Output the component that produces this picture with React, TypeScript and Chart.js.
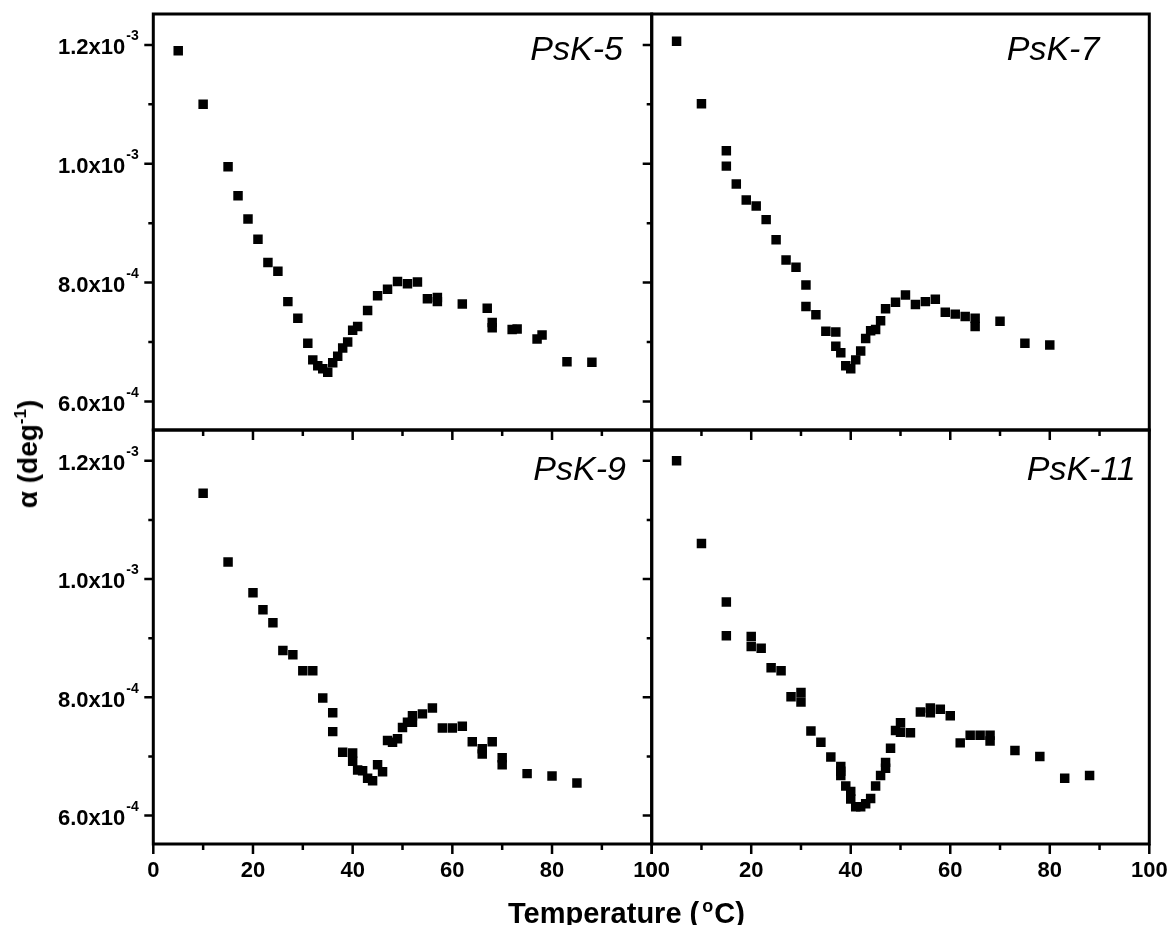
import React, { useEffect, useRef } from "react";
import { Chart, registerables } from "chart.js";

Chart.register(...registerables);

const W = 1172;
const H = 925;

// ---------- data (temperature in °C, alpha in deg^-1) ----------
const psk5T = [5, 10, 15, 17, 19, 21, 23, 25, 27, 29, 31, 32, 33, 34, 35, 36, 37, 38, 39, 40, 41, 43, 45, 47, 49, 51, 53, 55, 57, 57, 62, 67, 68, 68, 72, 73, 77, 78, 83, 88];
const psk5A = [11.9e-4, 11.0e-4, 9.95e-4, 9.46e-4, 9.07e-4, 8.73e-4, 8.34e-4, 8.19e-4, 7.68e-4, 7.40e-4, 6.98e-4, 6.70e-4, 6.60e-4, 6.55e-4, 6.49e-4, 6.65e-4, 6.76e-4, 6.90e-4, 7.00e-4, 7.20e-4, 7.26e-4, 7.53e-4, 7.78e-4, 7.89e-4, 8.02e-4, 7.98e-4, 8.01e-4, 7.73e-4, 7.75e-4, 7.68e-4, 7.64e-4, 7.57e-4, 7.33e-4, 7.24e-4, 7.21e-4, 7.22e-4, 7.05e-4, 7.12e-4, 6.67e-4, 6.66e-4];

const psk7T = [5, 10, 15, 15, 17, 19, 21, 23, 25, 27, 29, 31, 31, 33, 35, 37, 37, 38, 39, 40, 41, 42, 43, 44, 45, 46, 47, 49, 51, 53, 55, 57, 59, 61, 63, 65, 65, 70, 75, 80];
const psk7A = [12.06e-4, 11.01e-4, 10.22e-4, 9.96e-4, 9.66e-4, 9.39e-4, 9.29e-4, 9.06e-4, 8.72e-4, 8.38e-4, 8.26e-4, 7.96e-4, 7.60e-4, 7.46e-4, 7.18e-4, 7.17e-4, 6.93e-4, 6.82e-4, 6.60e-4, 6.55e-4, 6.70e-4, 6.85e-4, 7.06e-4, 7.19e-4, 7.21e-4, 7.36e-4, 7.56e-4, 7.67e-4, 7.79e-4, 7.63e-4, 7.68e-4, 7.72e-4, 7.50e-4, 7.47e-4, 7.43e-4, 7.40e-4, 7.26e-4, 7.35e-4, 6.98e-4, 6.95e-4];

const psk9T = [10, 15, 20, 22, 24, 26, 28, 30, 32, 34, 36, 36, 38, 40, 40, 41, 42, 43, 44, 45, 46, 47, 48, 49, 50, 51, 52, 52, 54, 56, 58, 60, 62, 64, 66, 66, 68, 70, 70, 75, 80, 85];
const psk9A = [11.45e-4, 10.29e-4, 9.77e-4, 9.48e-4, 9.26e-4, 8.79e-4, 8.72e-4, 8.45e-4, 8.45e-4, 7.99e-4, 7.74e-4, 7.42e-4, 7.07e-4, 7.06e-4, 6.92e-4, 6.77e-4, 6.76e-4, 6.63e-4, 6.59e-4, 6.86e-4, 6.74e-4, 7.27e-4, 7.24e-4, 7.30e-4, 7.49e-4, 7.58e-4, 7.69e-4, 7.58e-4, 7.72e-4, 7.82e-4, 7.48e-4, 7.48e-4, 7.51e-4, 7.25e-4, 7.13e-4, 7.04e-4, 7.25e-4, 6.98e-4, 6.86e-4, 6.71e-4, 6.67e-4, 6.55e-4];

const psk11T = [5, 10, 15, 15, 20, 20, 22, 24, 26, 28, 30, 30, 32, 34, 36, 38, 38, 38, 39, 40, 40, 41, 42, 43, 44, 45, 46, 47, 47, 48, 49, 50, 50, 52, 54, 56, 56, 58, 60, 62, 64, 66, 68, 68, 73, 78, 83, 88];
const psk11A = [12.0e-4, 10.6e-4, 9.61e-4, 9.04e-4, 9.03e-4, 8.86e-4, 8.83e-4, 8.50e-4, 8.45e-4, 8.01e-4, 8.08e-4, 7.92e-4, 7.43e-4, 7.24e-4, 6.99e-4, 6.83e-4, 6.75e-4, 6.68e-4, 6.50e-4, 6.41e-4, 6.28e-4, 6.15e-4, 6.15e-4, 6.20e-4, 6.29e-4, 6.50e-4, 6.68e-4, 6.80e-4, 6.90e-4, 7.14e-4, 7.44e-4, 7.57e-4, 7.41e-4, 7.40e-4, 7.75e-4, 7.82e-4, 7.74e-4, 7.80e-4, 7.69e-4, 7.23e-4, 7.36e-4, 7.36e-4, 7.36e-4, 7.26e-4, 7.10e-4, 7.00e-4, 6.63e-4, 6.68e-4];

// ---------- axes ----------
const X_MIN = 0;
const X_MAX = 100;
const Y_MIN = 5.52e-4;
const Y_MAX = 1.252e-3;
const xMajorTicks = [0, 20, 40, 60, 80, 100];
const xMinorTicks = [10, 30, 50, 70, 90];
const xTickLabels = ["0", "20", "40", "60", "80", "100"];
const yMajorTicks = [6.0e-4, 8.0e-4, 1.0e-3, 1.2e-3];
const yMinorTicks = [7.0e-4, 9.0e-4, 1.1e-3];
const yTickMantissa = ["6.0x10", "8.0x10", "1.0x10", "1.2x10"];
const yTickExponent = ["-4", "-4", "-3", "-3"];

const panelNames = ["PsK-5", "PsK-7", "PsK-9", "PsK-11"];
const panelTemps = [psk5T, psk7T, psk9T, psk11T];
const panelAlphas = [psk5A, psk7A, psk9A, psk11A];

// ---------- layout (page pixels) ----------
const FONT = '"Liberation Sans", Arial, Helvetica, sans-serif';
const layouts = [
  { left: 153.3, top: 14, right: 651.7, bottom: 430, yLabels: true, xLabels: false, nameDx: 377, nameDy: 46 },
  { left: 651.7, top: 14, right: 1149.3, bottom: 430, yLabels: false, xLabels: false, nameDx: 355, nameDy: 46 },
  { left: 153.3, top: 430, right: 651.7, bottom: 844, yLabels: true, xLabels: true, nameDx: 380, nameDy: 50 },
  { left: 651.7, top: 430, right: 1149.3, bottom: 844, yLabels: false, xLabels: true, nameDx: 375, nameDy: 50 },
];

function makeAxesPlugin(idx: number) {
  const L = layouts[idx];
  return {
    id: "panelAxes" + idx,
    afterDatasetsDraw(chart: any) {
      const { ctx, chartArea: a } = chart;
      const xs = chart.scales.x;
      const ys = chart.scales.y;
      ctx.save();
      ctx.strokeStyle = "#000";
      ctx.fillStyle = "#000";
      ctx.lineWidth = 3;
      ctx.strokeRect(a.left, a.top, a.right - a.left, a.bottom - a.top);

      ctx.lineWidth = 2.5;
      ctx.beginPath();
      xMajorTicks.forEach((v) => {
        const px = xs.getPixelForValue(v);
        ctx.moveTo(px, a.bottom);
        ctx.lineTo(px, a.bottom + 10);
      });
      xMinorTicks.forEach((v) => {
        const px = xs.getPixelForValue(v);
        ctx.moveTo(px, a.bottom);
        ctx.lineTo(px, a.bottom + 6);
      });
      yMajorTicks.forEach((v) => {
        const py = ys.getPixelForValue(v);
        ctx.moveTo(a.left, py);
        ctx.lineTo(a.left - 9, py);
      });
      yMinorTicks.forEach((v) => {
        const py = ys.getPixelForValue(v);
        ctx.moveTo(a.left, py);
        ctx.lineTo(a.left - 5, py);
      });
      ctx.stroke();

      if (L.xLabels) {
        ctx.font = `bold 22px ${FONT}`;
        ctx.textAlign = "center";
        ctx.textBaseline = "alphabetic";
        xMajorTicks.forEach((v, i) => {
          ctx.fillText(xTickLabels[i], xs.getPixelForValue(v), a.bottom + 33);
        });
      }

      if (L.yLabels) {
        yMajorTicks.forEach((v, i) => {
          const py = ys.getPixelForValue(v);
          ctx.font = `bold 22px ${FONT}`;
          ctx.textAlign = "right";
          ctx.textBaseline = "alphabetic";
          ctx.fillText(yTickMantissa[i], a.left - 28, py + 9.4);
          ctx.font = `bold 14px ${FONT}`;
          ctx.textAlign = "left";
          ctx.fillText(yTickExponent[i], a.left - 27, py - 4.6);
        });
      }

      ctx.font = `italic 34px ${FONT}`;
      ctx.textAlign = "left";
      ctx.textBaseline = "alphabetic";
      ctx.fillText(panelNames[idx], a.left + L.nameDx, a.top + L.nameDy);
      ctx.restore();
    },
  };
}

function Panel({ idx }: { idx: number }) {
  const ref = useRef<HTMLCanvasElement | null>(null);
  useEffect(() => {
    const L = layouts[idx];
    const t = panelTemps[idx];
    const al = panelAlphas[idx];
    const chart = new Chart(ref.current as HTMLCanvasElement, {
      type: "scatter",
      data: {
        datasets: [
          {
            label: panelNames[idx],
            data: t.map((tv, i) => ({ x: tv, y: al[i] })),
            pointStyle: "rect",
            pointRadius: 6.7,
            pointHoverRadius: 6.7,
            backgroundColor: "#000",
            borderColor: "#000",
            borderWidth: 0,
            showLine: false,
          } as any,
        ],
      },
      options: {
        responsive: false,
        animation: false,
        events: [],
        layout: {
          padding: { left: L.left, top: L.top, right: W - L.right, bottom: H - L.bottom },
        },
        plugins: { legend: { display: false }, tooltip: { enabled: false }, title: { display: false } },
        scales: {
          x: { type: "linear", display: false, min: X_MIN, max: X_MAX },
          y: { type: "linear", display: false, min: Y_MIN, max: Y_MAX },
        },
      } as any,
      plugins: [makeAxesPlugin(idx)],
    });
    return () => chart.destroy();
  }, [idx]);
  return (
    <canvas
      ref={ref}
      width={W}
      height={H}
      style={{ position: "absolute", left: 0, top: 0, width: W, height: H }}
    />
  );
}

export default function App() {
  return (
    <div style={{ position: "absolute", left: 0, top: 0, width: W, height: H, background: "#fff", overflow: "hidden" }}>
      {[0, 1, 2, 3].map((i) => (
        <Panel key={i} idx={i} />
      ))}
      <div
        style={{
          position: "absolute",
          left: 508,
          top: 899,
          font: `bold 29px ${FONT}`,
          lineHeight: "29px",
          whiteSpace: "nowrap",
          color: "#000",
        }}
      >
        Temperature (
        <span style={{ fontSize: 18, position: "relative", top: -11, marginLeft: 3, marginRight: 1 }}>o</span>
        C)
      </div>
      <div
        style={{
          position: "absolute",
          left: 29.5,
          top: 454,
          font: `bold 28px ${FONT}`,
          lineHeight: "28px",
          whiteSpace: "nowrap",
          color: "#000",
          transform: "translate(-50%, -50%) rotate(-90deg)",
        }}
      >
        α (deg
        <span style={{ fontSize: 17, position: "relative", top: -11 }}>-1</span>
        )
      </div>
    </div>
  );
}
